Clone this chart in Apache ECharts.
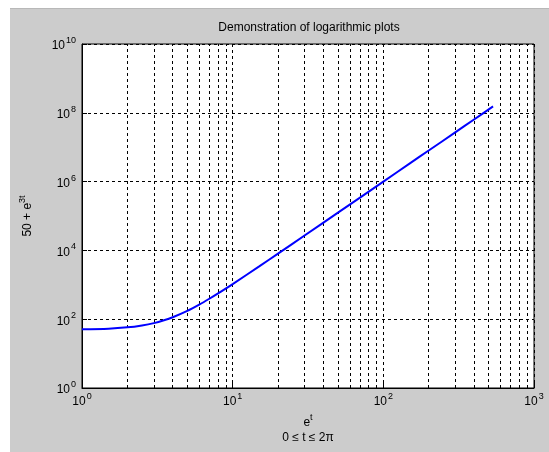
<!DOCTYPE html>
<html>
<head>
<meta charset="utf-8">
<script src="https://cdn.jsdelivr.net/npm/echarts@6/dist/echarts.min.js"></script>
<style>
html,body{margin:0;padding:0;background:#ffffff;}
#chart{position:absolute;left:10px;top:8px;width:539px;height:444px;border-top:1px solid #b8b8b8;box-sizing:border-box;}
</style>
</head>
<body>
<div id="chart"></div>
<script>
// values: x = e^t, y = 50 + e^{3t}
const xValues = [1, 1.5, 2, 2.5, 3, 3.5, 4, 5, 6, 7, 8, 10, 15, 20, 30, 50, 70, 100, 150, 200, 300, 400, 535];
const yValues = [51, 53, 58, 66, 77, 93, 114, 175, 266, 393, 562, 1050, 3425, 8050, 27050, 125050, 343050, 1.0e6, 3.4e6, 8.0e6, 2.7e7, 6.4e7, 1.53e8];
const xMinorGrid = [2, 3, 4, 5, 6, 7, 8, 9, 20, 30, 40, 50, 60, 70, 80, 90, 200, 300, 400, 500, 600, 700, 800, 900];
const titleText = 'Demonstration of logarithmic plots';

const chart = echarts.init(document.getElementById('chart'));
const font = '"Liberation Sans", Arial, sans-serif';
function powLabel(v) {
  const e = Math.round(Math.log10(v));
  return '{b|10}{s|' + e + '}';
}
const labelRich = {
  b: {fontSize: 12, fontFamily: font, color: '#000', lineHeight: 16, verticalAlign: 'bottom'},
  s: {fontSize: 9, fontFamily: font, color: '#000', lineHeight: 16, verticalAlign: 'top', padding: [0, 0, 0, 1]}
};
const dash = {type: [3, 3], color: '#000', width: 1};

chart.setOption({
  animation: false,
  backgroundColor: '#cccccc',
  title: {
    text: titleText,
    left: 294, top: 8, textAlign: 'center',
    textStyle: {fontSize: 12, fontWeight: 'normal', fontFamily: font, color: '#000'}
  },
  grid: {left: 63, top: 35, width: 461, height: 344, show: true, backgroundColor: '#ffffff', borderColor: '#000', borderWidth: 1, containLabel: false},
  xAxis: {
    type: 'log', logBase: 10, min: 1, max: 1000, interval: 1,
    name: '{b|e}{s|t}\n{c|0 ≤ t ≤ 2π}',
    nameLocation: 'middle', nameGap: 24,
    nameTextStyle: {
      rich: {
        b: {fontSize: 12, fontFamily: font, color: '#000', lineHeight: 16, verticalAlign: 'bottom'},
        s: {fontSize: 9, fontFamily: font, color: '#000', lineHeight: 16, verticalAlign: 'top'},
        c: {fontSize: 12, fontFamily: font, color: '#000', lineHeight: 17}
      }
    },
    axisLine: {show: true, lineStyle: {color: '#000', width: 1}},
    axisTick: {show: true, inside: true, length: 5, lineStyle: {color: '#000'}},
    axisLabel: {formatter: powLabel, rich: labelRich, margin: 4},
    splitLine: {show: true, lineStyle: dash}
  },
  yAxis: {
    type: 'log', logBase: 10, min: 1, max: 1e10, interval: 2,
    name: '{b|50 + e}{s|3t}',
    nameLocation: 'middle', nameGap: 48, nameRotate: 90,
    nameTextStyle: {
      rich: {
        b: {fontSize: 12, fontFamily: font, color: '#000', lineHeight: 16, verticalAlign: 'bottom'},
        s: {fontSize: 9, fontFamily: font, color: '#000', lineHeight: 16, verticalAlign: 'top'}
      }
    },
    axisLine: {show: true, lineStyle: {color: '#000', width: 1}},
    axisTick: {show: true, inside: true, length: 5, lineStyle: {color: '#000'}},
    axisLabel: {formatter: powLabel, rich: labelRich, margin: 6},
    splitLine: {show: true, lineStyle: dash}
  },
  series: [{
    type: 'line',
    data: xValues.map((x, i) => [x, yValues[i]]),
    showSymbol: false,
    smooth: 0.3,
    lineStyle: {color: '#0000ff', width: 2},
    z: 5,
    markLine: {
      silent: true,
      symbol: ['none', 'none'],
      label: {show: false},
      lineStyle: dash,
      data: xMinorGrid.map(v => ({xAxis: v}))
    }
  }]
});
</script>
</body>
</html>
